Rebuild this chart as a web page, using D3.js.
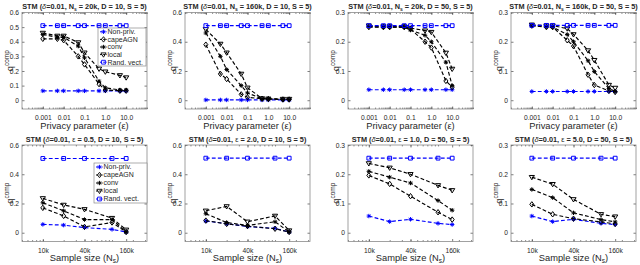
<!DOCTYPE html>
<html>
<head>
<meta charset="utf-8">
<script src="https://cdn.jsdelivr.net/npm/d3@7"></script>
<style>
  body { margin: 0; background: #fff; }
  svg { display: block; }
  text { font-family: "Liberation Sans", Arial, sans-serif; fill: #262626; }
</style>
</head>
<body>
<svg id="chart" width="640" height="265"></svg>
<script>
// x values
var epsVals = [0.001, 0.005, 0.01, 0.05, 0.1, 0.5, 1, 5, 10];
var sampleSizes = [10000, 20000, 40000, 100000, 160000];

// panel labels (top row: N_s, bottom row: epsilon)
var panelVar = ['20k', '160k', '20k', '160k', '0.5', '2.0', '1.0', '5.0'];
var panelD = [10, 10, 50, 50, 10, 10, 50, 50];

var seriesNames = ['Non-priv.', 'capeAGN', 'conv', 'local', 'Rand. vect.'];

// one row per panel
var nonPriv = [
    [0.064, 0.064, 0.064, 0.064, 0.064, 0.064, 0.064, 0.064, 0.064],
    [0.002, 0.002, 0.002, 0.002, 0.002, 0.002, 0.002, 0.002, 0.002],
    [0.036, 0.036, 0.036, 0.036, 0.036, 0.036, 0.036, 0.036, 0.036],
    [0.03, 0.03, 0.03, 0.03, 0.03, 0.03, 0.03, 0.03, 0.03],
    [0.057, 0.052, 0.035, 0.023, 0.005],
    [0.08, 0.062, 0.042, 0.03, 0.005],
    [0.057, 0.038, 0.046, 0.032, 0.028],
    [0.057, 0.038, 0.046, 0.032, 0.028]
];
var capeAGN = [
    [0.42, 0.42, 0.41, 0.30, 0.245, 0.11, 0.07, 0.065, 0.065],
    [0.38, 0.18, 0.145, 0.04, 0.02, 0.01, 0.008, 0.005, 0.005],
    [0.25, 0.25, 0.25, 0.25, 0.243, 0.2, 0.18, 0.066, 0.045],
    [0.255, 0.25, 0.25, 0.205, 0.185, 0.087, 0.052, 0.032, 0.028],
    [0.17, 0.115, 0.04, 0.07, 0.005],
    [0.083, 0.06, 0.045, 0.027, 0.005],
    [0.196, 0.167, 0.125, 0.07, 0.045],
    [0.097, 0.063, 0.048, 0.037, 0.03]
];
var conv = [
    [0.45, 0.43, 0.43, 0.37, 0.29, 0.13, 0.085, 0.07, 0.07],
    [0.46, 0.30, 0.21, 0.10, 0.05, 0.01, 0.01, 0.005, 0.005],
    [0.252, 0.25, 0.25, 0.25, 0.24, 0.222, 0.2, 0.13, 0.05],
    [0.255, 0.252, 0.25, 0.225, 0.2, 0.135, 0.098, 0.04, 0.03],
    [0.205, 0.15, 0.09, 0.09, 0.005],
    [0.13, 0.07, 0.05, 0.075, 0.005],
    [0.21, 0.19, 0.17, 0.11, 0.077],
    [0.148, 0.12, 0.068, 0.045, 0.037]
];
var local = [
    [0.46, 0.44, 0.44, 0.395, 0.325, 0.215, 0.195, 0.17, 0.155],
    [0.485, 0.385, 0.325, 0.18, 0.085, 0.012, 0.01, 0.008, 0.008],
    [0.255, 0.252, 0.252, 0.252, 0.247, 0.238, 0.233, 0.162, 0.107],
    [0.258, 0.255, 0.255, 0.245, 0.225, 0.17, 0.137, 0.052, 0.042],
    [0.235, 0.19, 0.16, 0.1, 0.02],
    [0.15, 0.18, 0.075, 0.115, 0.015],
    [0.237, 0.222, 0.2, 0.162, 0.145],
    [0.19, 0.166, 0.114, 0.063, 0.055]
];
var randVect = [
    [0.51, 0.51, 0.51, 0.51, 0.51, 0.51, 0.51, 0.51, 0.51],
    [0.51, 0.51, 0.51, 0.51, 0.51, 0.51, 0.51, 0.51, 0.51],
    [0.255, 0.255, 0.255, 0.255, 0.255, 0.255, 0.255, 0.255, 0.255],
    [0.256, 0.256, 0.256, 0.256, 0.256, 0.256, 0.256, 0.256, 0.256],
    [0.508, 0.508, 0.508, 0.508, 0.508],
    [0.51, 0.51, 0.51, 0.51, 0.51],
    [0.255, 0.255, 0.255, 0.255, 0.255],
    [0.255, 0.255, 0.255, 0.255, 0.255]
];

var epsTicks = [0.001, 0.01, 0.1, 1, 10];
var epsTickLabels = ['0.001', '0.01', '0.1', '1.0', '10.0'];
var sampleTicks = [10000, 40000, 160000];
var sampleTickLabels = ['10k', '40k', '160k'];

// layout
var svg = d3.select('#chart');
var boxW = 125, boxH = 96.5;
var panelLefts = [22, 185, 348, 511];
var panelTops = [12.5, 145];
var blue = '#0000ff';
var styles = [
    { color: blue, marker: 'star' },
    { color: '#000', marker: 'diamond' },
    { color: '#000', marker: 'star' },
    { color: '#000', marker: 'tri' },
    { color: blue, marker: 'square' }
];
var legendBoxes = { 0: { x: 98, y: 28, w: 48, h: 38 }, 4: { x: 94, y: 163, w: 53, h: 40 } };

function markerPath(type) {
    var r;
    if (type === 'star') {
        r = 2.2;
        var d = 0.7 * r;
        return 'M' + (-r) + ',0H' + r + 'M0,' + (-r) + 'V' + r +
            'M' + (-d) + ',' + (-d) + 'L' + d + ',' + d + 'M' + (-d) + ',' + d + 'L' + d + ',' + (-d);
    } else if (type === 'diamond') {
        r = 2.7;
        return 'M0,' + (-r) + 'L' + (0.75 * r) + ',0L0,' + r + 'L' + (-0.75 * r) + ',0Z';
    } else if (type === 'tri') {
        r = 2.6;
        return 'M' + (-r) + ',' + (-0.65 * r) + 'L' + r + ',' + (-0.65 * r) + 'L0,' + r + 'Z';
    } else {
        r = 1.9;
        return 'M' + (-r) + ',' + (-r) + 'H' + r + 'V' + r + 'H' + (-r) + 'Z';
    }
}

function minorLogTicks(lo, hi) {
    var out = [];
    for (var e = Math.floor(Math.log10(lo)); e <= Math.ceil(Math.log10(hi)); e++) {
        for (var m = 1; m < 10; m++) {
            var v = m * Math.pow(10, e);
            if (v >= lo && v <= hi) out.push(v);
        }
    }
    return out;
}

function styleAxis(g) {
    g.select('.domain').remove();
    g.selectAll('line').attr('stroke', '#262626').attr('stroke-width', 0.6);
    g.selectAll('text').attr('font-size', 6.7).attr('fill', '#262626').style('font-family', '"Liberation Sans", Arial, sans-serif');
}

function drawPanel(i) {
    var row = i < 4 ? 0 : 1;
    var x0 = panelLefts[i % 4];
    var y0 = panelTops[row];
    var y1 = y0 + boxH;
    var g = svg.append('g');

    var xVals = row === 0 ? epsVals : sampleSizes;
    var x = row === 0
        ? d3.scaleLog().domain([1e-4, 1e2]).range([x0, x0 + boxW])
        : d3.scaleLog().domain([5000, 320000]).range([x0, x0 + boxW]);
    var yMax = panelD[i] === 10 ? 0.6 : 0.3;
    var y = d3.scaleLinear().domain([-yMax / 10, yMax]).range([y1, y0]);
    var yTicks = (i === 0) ? [0, 0.1, 0.2, 0.3, 0.4, 0.5, 0.6]
        : (panelD[i] === 10 ? [0, 0.2, 0.4, 0.6] : [0, 0.1, 0.2, 0.3]);

    g.append('rect').attr('x', x0).attr('y', y0).attr('width', boxW).attr('height', boxH).attr('fill', '#fff');

    // ticks
    var xTicks = row === 0 ? epsTicks : sampleTicks;
    var xLabels = row === 0 ? epsTickLabels : sampleTickLabels;
    var minor = row === 0 ? minorLogTicks(1e-4, 1e2) : minorLogTicks(5000, 320000);

    g.append('g').attr('transform', 'translate(0,' + y1 + ')')
        .call(d3.axisBottom(x).tickValues(minor).tickSize(-1.4).tickFormat(''))
        .call(styleAxis);
    g.append('g').attr('transform', 'translate(0,' + y0 + ')')
        .call(d3.axisTop(x).tickValues(minor).tickSize(-1.4).tickFormat(''))
        .call(styleAxis);
    g.append('g').attr('transform', 'translate(0,' + y1 + ')')
        .call(d3.axisBottom(x).tickValues(xTicks).tickSize(-2.5).tickPadding(6.5)
            .tickFormat(function (d, k) { return xLabels[k]; }))
        .call(styleAxis);
    g.append('g').attr('transform', 'translate(0,' + y0 + ')')
        .call(d3.axisTop(x).tickValues(xTicks).tickSize(-2.5).tickFormat(''))
        .call(styleAxis);
    g.append('g').attr('transform', 'translate(' + x0 + ',0)')
        .call(d3.axisLeft(y).tickValues(yTicks).tickSize(-2.5).tickPadding(3)
            .tickFormat(function (d) { return d === 0 ? '0' : d3.format('.1f')(d); }))
        .call(styleAxis);
    g.append('g').attr('transform', 'translate(' + (x0 + boxW) + ',0)')
        .call(d3.axisRight(y).tickValues(yTicks).tickSize(-2.5).tickFormat(''))
        .call(styleAxis);

    // box
    g.append('rect').attr('x', x0).attr('y', y0).attr('width', boxW).attr('height', boxH)
        .attr('fill', 'none').attr('stroke', '#8a8a8a').attr('stroke-width', 0.8);

    // series
    var allSeries = [nonPriv[i], capeAGN[i], conv[i], local[i], randVect[i]];
    var line = d3.line().x(function (d) { return x(d[0]); }).y(function (d) { return y(d[1]); });
    allSeries.forEach(function (vals, s) {
        var pts = xVals.map(function (xv, k) { return [xv, vals[k]]; });
        g.append('path').attr('d', line(pts)).attr('fill', 'none')
            .attr('stroke', styles[s].color).attr('stroke-width', 1.15)
            .attr('stroke-dasharray', '3.8,2.2');
        g.selectAll(null).data(pts).enter().append('path')
            .attr('transform', function (d) { return 'translate(' + x(d[0]) + ',' + y(d[1]) + ')'; })
            .attr('d', markerPath(styles[s].marker))
            .attr('fill', 'none').attr('stroke', styles[s].color).attr('stroke-width', 1);
    });

    // title
    var title = g.append('text').attr('x', x0 + boxW / 2).attr('y', y0 - 3.5)
        .attr('text-anchor', 'middle').attr('font-size', 7.3).attr('font-weight', 'bold');
    title.append('tspan').text('STM (');
    title.append('tspan').attr('font-style', 'italic').attr('font-weight', 'normal').text('δ');
    title.append('tspan').text('=0.01, ');
    if (row === 0) {
        title.append('tspan').text('N');
        title.append('tspan').attr('font-size', 5).attr('dy', 1.5).text('s');
        title.append('tspan').attr('dy', -1.5).text(' = ' + panelVar[i] + ', D = ' + panelD[i] + ', S = 5)');
    } else {
        title.append('tspan').attr('font-weight', 'normal').text('ε');
        title.append('tspan').text(' = ' + panelVar[i] + ', D = ' + panelD[i] + ', S = 5)');
    }

    // x label
    var xl = g.append('text').attr('x', x0 + boxW / 2).attr('y', y1 + 19.5)
        .attr('text-anchor', 'middle').attr('font-size', 9.3);
    if (row === 0) {
        xl.append('tspan').text('Privacy parameter (');
        xl.append('tspan').text('ε');
        xl.append('tspan').text(')');
    } else {
        xl.append('tspan').text('Sample size (N');
        xl.append('tspan').attr('font-size', 6.5).attr('dy', 2).text('s');
        xl.append('tspan').attr('dy', -2).text(')');
    }

    // y label
    var yl = g.append('text')
        .attr('transform', 'translate(' + (x0 - 9.5) + ',' + (y0 + boxH / 2) + ') rotate(-90)')
        .attr('text-anchor', 'middle').attr('font-size', 9.3);
    yl.append('tspan').text('q');
    yl.append('tspan').attr('font-size', 6.5).attr('dy', -4).text('comp');

    // legend
    var lb = legendBoxes[i];
    if (lb) {
        var lg = g.append('g');
        lg.append('rect').attr('x', lb.x).attr('y', lb.y).attr('width', lb.w).attr('height', lb.h)
            .attr('fill', '#fff').attr('stroke', '#8a8a8a').attr('stroke-width', 0.7);
        var rowH = lb.h / seriesNames.length;
        seriesNames.forEach(function (name, s) {
            var cy = lb.y + rowH * (s + 0.5);
            lg.append('line').attr('x1', lb.x + 2).attr('x2', lb.x + 9).attr('y1', cy).attr('y2', cy)
                .attr('stroke', styles[s].color).attr('stroke-width', 1).attr('stroke-dasharray', '2,1.2');
            lg.append('path').attr('transform', 'translate(' + (lb.x + 5.5) + ',' + cy + ')')
                .attr('d', markerPath(styles[s].marker))
                .attr('fill', 'none').attr('stroke', styles[s].color).attr('stroke-width', 0.9);
            lg.append('text').attr('x', lb.x + 9.5).attr('y', cy + 2.4)
                .attr('font-size', 7).text(name);
        });
    }
}

for (var p = 0; p < 8; p++) drawPanel(p);
</script>
</body>
</html>
